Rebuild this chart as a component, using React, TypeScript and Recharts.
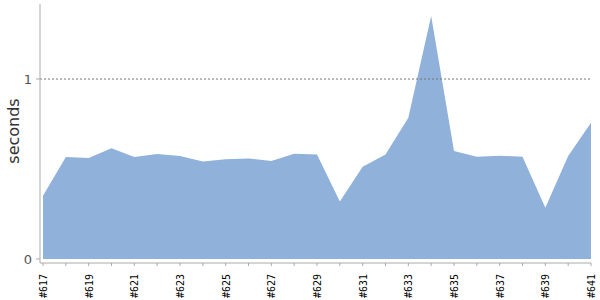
import React from 'react';
import { AreaChart, Area, XAxis, YAxis, ReferenceLine } from 'recharts';

const builds = ['#617','#618','#619','#620','#621','#622','#623','#624','#625','#626','#627','#628','#629','#630','#631','#632','#633','#634','#635','#636','#637','#638','#639','#640','#641'];
const seconds = [0.352,0.567,0.561,0.615,0.567,0.583,0.572,0.541,0.554,0.559,0.544,0.585,0.58,0.32,0.513,0.58,0.785,1.35,0.6,0.568,0.574,0.568,0.285,0.572,0.757];
const yTicks = [0, 1];

const data = builds.map((b, i) => ({ build: b, seconds: seconds[i] }));

const XTick = (props: any) => {
  const { x, y, payload, index } = props;
  if (index % 2 !== 0) return null;
  return (
    <text
      x={x + 4}
      y={y + 6}
      transform={`rotate(-90 ${x + 4} ${y + 6})`}
      textAnchor="end"
      fontSize={10}
      fontFamily="DejaVu Sans Mono"
      fill="#000"
    >
      {payload.value}
    </text>
  );
};

const YLabel = () => (
  <text
    x={19}
    y={131}
    transform="rotate(-90 19 131)"
    textAnchor="middle"
    fontSize={16}
    fontFamily="DejaVu Sans"
    fill="#333"
  >
    seconds
  </text>
);

export default function App() {
  return (
    <div style={{ position: 'absolute', left: 0, top: 0 }}>
      <AreaChart width={600} height={300} data={data} margin={{ top: 4, right: 9, left: 0, bottom: 0 }}>
        <XAxis
          dataKey="build"
          interval={0}
          height={37}
          padding={{ left: 3, right: 0 }}
          tick={<XTick />}
          tickSize={3}
          stroke="#aaa"
        />
        <YAxis
          domain={[0, 1.4167]}
          ticks={yTicks}
          width={40}
          padding={{ top: 0, bottom: 4 }}
          tickSize={4}
          tickMargin={4}
          stroke="#aaa"
          tick={{ fill: '#555', fontSize: 13, fontFamily: 'DejaVu Sans' }}
          label={<YLabel />}
        />
        <ReferenceLine y={1} stroke="#777" strokeDasharray="2 2" />
        <Area
          type="linear"
          dataKey="seconds"
          fill="#8fb1da"
          fillOpacity={1}
          stroke="none"
          isAnimationActive={false}
        />
      </AreaChart>
    </div>
  );
}
